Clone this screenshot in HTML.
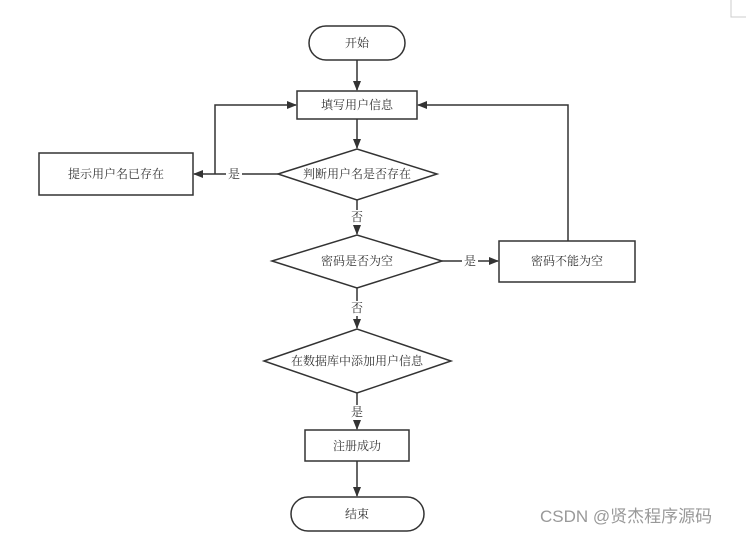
<!DOCTYPE html>
<html><head><meta charset="utf-8"><style>
body{margin:0;background:#fff;}
svg text{font-family:"Liberation Serif","Noto Serif CJK SC",serif;font-size:12px;fill:#333;}
</style></head><body>
<svg width="746" height="535" viewBox="0 0 746 535" xmlns="http://www.w3.org/2000/svg">
<defs><marker id="a" markerWidth="10" markerHeight="8" refX="9" refY="4" orient="auto" markerUnits="userSpaceOnUse"><path d="M0,0 L10,4 L0,8 z" fill="#333"/></marker></defs>
<g stroke="#333" stroke-width="1.5" fill="#fff">
<rect x="309" y="26" width="96" height="34" rx="17"/>
<rect x="297" y="91" width="120" height="28"/>
<polygon points="278,174 357,149 437,174 357,200"/>
<rect x="39" y="153" width="154" height="42"/>
<polygon points="272,261 357,235 442,261 357,288"/>
<rect x="499" y="241" width="136" height="41"/>
<polygon points="264,361 357,329 451,361 357,393"/>
<rect x="305" y="430" width="104" height="31"/>
<rect x="291" y="497" width="133" height="34" rx="17"/>
</g>
<g stroke="#333" stroke-width="1.5" fill="none" marker-end="url(#a)">
<line x1="357" y1="60" x2="357" y2="90"/>
<line x1="357" y1="119" x2="357" y2="148"/>
<line x1="278" y1="174" x2="194" y2="174"/>
<polyline points="215,174 215,105 296,105"/>
<line x1="357" y1="200" x2="357" y2="234"/>
<line x1="442" y1="261" x2="498" y2="261"/>
<polyline points="568,241 568,105 418,105"/>
<line x1="357" y1="288" x2="357" y2="328"/>
<line x1="357" y1="393" x2="357" y2="429"/>
<line x1="357" y1="461" x2="357" y2="496"/>
</g>
<g fill="#fff"><rect x="226" y="166" width="16" height="15"/><rect x="349" y="210" width="16" height="15"/><rect x="462" y="253" width="16" height="15"/><rect x="349" y="301" width="16" height="15"/><rect x="349" y="405" width="16" height="15"/></g>
<g text-anchor="middle" dominant-baseline="central">
<text x="357" y="43">开始</text>
<text x="357" y="105">填写用户信息</text>
<text x="357" y="174">判断用户名是否存在</text>
<text x="116" y="174">提示用户名已存在</text>
<text x="234" y="174">是</text>
<text x="357" y="217">否</text>
<text x="357" y="261">密码是否为空</text>
<text x="470" y="261">是</text>
<text x="567" y="261">密码不能为空</text>
<text x="357" y="308">否</text>
<text x="357" y="361">在数据库中添加用户信息</text>
<text x="357" y="412">是</text>
<text x="357" y="446">注册成功</text>
<text x="357" y="514">结束</text>
</g>
<text x="540" y="522" style="font-family:'Liberation Sans','Noto Sans CJK SC',sans-serif;font-size:17px;fill:#999">CSDN @贤杰程序源码</text>
<polyline points="731,0 731,17 746,17" stroke="#ccc" fill="none"/>
</svg>
</body></html>
